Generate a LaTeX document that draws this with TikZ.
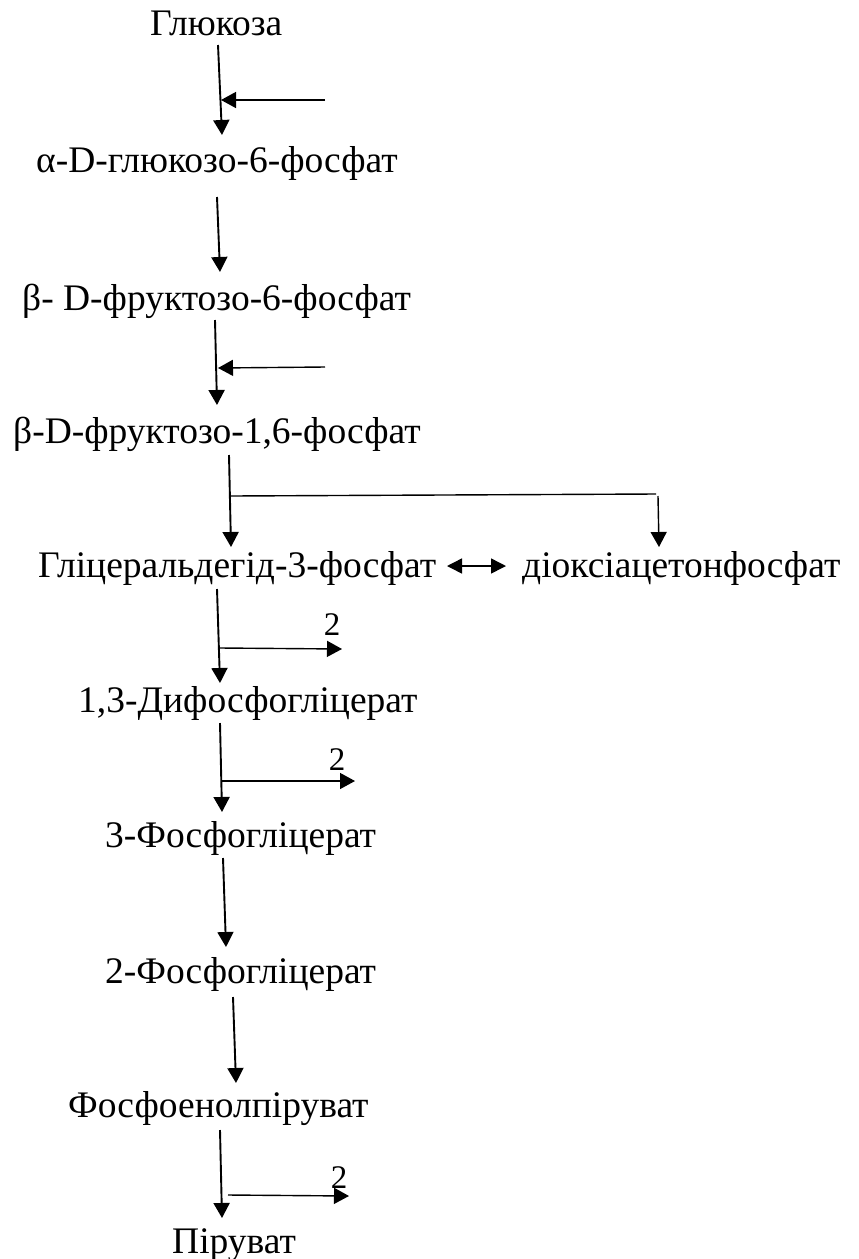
\documentclass[tikz,border=0pt]{standalone}
\usepackage{fontspec}
\setmainfont{Liberation Serif}
\usetikzlibrary{arrows.meta}
\begin{document}
\begin{tikzpicture}[x=1bp,y=-1bp,
  lbl/.style={inner sep=0pt, anchor=base west, font=\fontsize{37.5bp}{45bp}\selectfont},
  num/.style={inner sep=0pt, anchor=base, font=\fontsize{33bp}{40bp}\selectfont},
  flow/.style={line width=1.9bp, -{Triangle[length=15bp,width=16bp]}},
  side/.style={line width=1.4bp, -{Triangle[length=15bp,width=16bp]}},
  plain/.style={line width=1.4bp},
  both/.style={line width=1.5bp, {Triangle[length=15bp,width=15bp]}-{Triangle[length=15bp,width=15bp]}}]
\useasboundingbox (0,0) rectangle (859,1259);

% metabolites
\node[lbl] (glc)  at (150,35)   {Глюкоза};
\node[lbl] (g6p)  at (36,172)   {α-D-глюкозо-6-фосфат};
\node[lbl] (f6p)  at (22,310)   {β- D-фруктозо-6-фосфат};
\node[lbl] (fbp)  at (13,443)   {β-D-фруктозо-1,6-фосфат};
\node[lbl] (gap)  at (38,577)   {Гліцеральдегід-3-фосфат};
\node[lbl] (dhap) at (522,577)  {діоксіацетонфосфат};
\node[lbl] (bpg)  at (78,712)   {1,3-Дифосфогліцерат};
\node[lbl] (pg3)  at (105,847)  {3-Фосфогліцерат};
\node[lbl] (pg2)  at (105,983)  {2-Фосфогліцерат};
\node[lbl] (pep)  at (68,1117)  {Фосфоенолпіруват};
\node[lbl] (pyr)  at (172,1253) {Піруват};

% arrow end points
\coordinate (a1s) at (218,45);   \coordinate (a1e) at (222,135);
\coordinate (s1s) at (325,100);  \coordinate (s1e) at (221,100);
\coordinate (a2s) at (217,197);  \coordinate (a2e) at (220,272);
\coordinate (a3s) at (215,320);  \coordinate (a3e) at (217,405);
\coordinate (s3s) at (325,367);  \coordinate (s3e) at (218,368);
\coordinate (a4s) at (229,455);  \coordinate (a4e) at (231,547);
\coordinate (j1)  at (230,496);  \coordinate (j2)  at (656,494);
\coordinate (a4r) at (658,496);  \coordinate (a4f) at (659,547);
\coordinate (d1)  at (447,566);  \coordinate (d2)  at (506,566);
\coordinate (a5s) at (217,589);  \coordinate (a5e) at (220,683);
\coordinate (s5s) at (220,648);  \coordinate (s5e) at (342,649);
\coordinate (a6s) at (220,723);  \coordinate (a6e) at (222,812);
\coordinate (s6s) at (221,781);  \coordinate (s6e) at (355,781);
\coordinate (a7s) at (223,858);  \coordinate (a7e) at (226,947);
\coordinate (a8s) at (233,997);  \coordinate (a8e) at (236,1083);
\coordinate (a9s) at (220,1130); \coordinate (a9e) at (222,1218);
\coordinate (s9s) at (228,1195); \coordinate (s9e) at (349,1196);

% main pathway
\draw[flow] (a1s) -- (a1e);
\draw[side] (s1s) -- (s1e);
\draw[flow] (a2s) -- (a2e);
\draw[flow] (a3s) -- (a3e);
\draw[side] (s3s) -- (s3e);
\draw[flow] (a4s) -- (a4e);
\draw[plain] (j1) -- (j2);
\draw[side] (a4r) -- (a4f);
\draw[both] (d1) -- (d2);
\draw[flow] (a5s) -- (a5e);
\draw[side] (s5s) -- (s5e);
\draw[flow] (a6s) -- (a6e);
\draw[side] (s6s) -- (s6e);
\draw[flow] (a7s) -- (a7e);
\draw[flow] (a8s) -- (a8e);
\draw[flow] (a9s) -- (a9e);
\draw[side] (s9s) -- (s9e);

% stoichiometric labels
\node[num] (n1) at (332,635)  {2};
\node[num] (n2) at (337,770)  {2};
\node[num] (n3) at (339,1188) {2};
\end{tikzpicture}
\end{document}
